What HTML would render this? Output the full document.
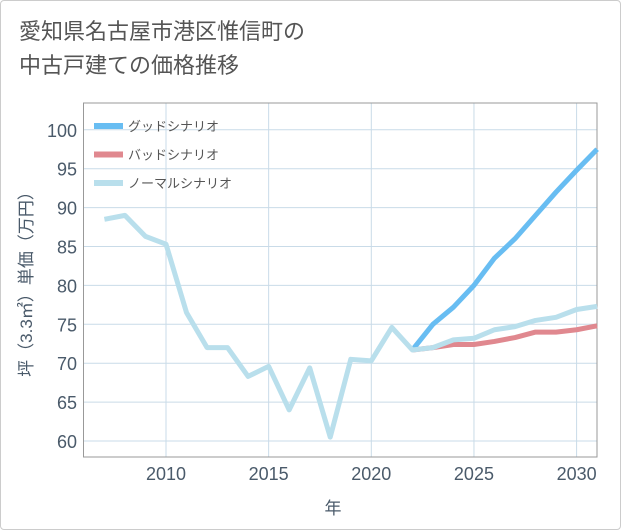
<!DOCTYPE html>
<html><head><meta charset="utf-8">
<style>
body{margin:0;background:#fff;}
#card{position:absolute;left:0;top:0;width:619px;height:528px;border:1px solid #ccc;border-radius:4px;background:#fff;}
#title{position:absolute;left:18px;top:14px;font:22px "Liberation Sans","Noto Sans CJK JP",sans-serif;color:#555;line-height:34px;}
text{font-family:"Liberation Sans","Noto Sans CJK JP",sans-serif;}
</style></head><body>
<div id="card">
<div id="title">愛知県名古屋市港区惟信町の<br>中古戸建ての価格推移</div>
</div>
<svg id="chart" width="621" height="530" style="position:absolute;left:0;top:0"></svg>
<script>
const years=[2007,2008,2009,2010,2011,2012,2013,2014,2015,2016,2017,2018,2019,2020,2021,2022,2023,2024,2025,2026,2027,2028,2029,2030,2031];
const normal=[88.5,89,86.3,85.3,76.5,72,72,68.3,69.6,64,69.4,60.5,70.5,70.3,74.6,71.7,72,73,73.2,74.3,74.7,75.5,75.9,76.9,77.3];
const goodYears=[2022,2023,2024,2025,2026,2027,2028,2029,2030,2031];
const good=[71.7,75,77.2,80,83.5,86,89,92,94.8,97.5];
const bad=[71.7,72,72.4,72.4,72.8,73.3,74,74,74.3,74.8];
const yTicks=[60,65,70,75,80,85,90,95,100];
const xTicks=[2010,2015,2020,2025,2030];
const L=83.5,R=597,T=103,B=457;
const xs=y=>166+(y-2010)*20.53;
const ys=v=>441-(v-60)*7.78;
const svg=document.getElementById('chart');
const NS='http://www.w3.org/2000/svg';
function mk(t,a){const e=document.createElementNS(NS,t);for(const k in a)e.setAttribute(k,a[k]);svg.appendChild(e);return e;}
yTicks.forEach(v=>{
 const g=mk('line',{x1:L,x2:R,y1:ys(v),y2:ys(v),stroke:'#c9dbe8','stroke-width':1});
 
 
 const t=mk('text',{x:77,y:ys(v)+7,'text-anchor':'end','font-size':18,fill:'#4a5a6a'});t.textContent=v;
 
 
});
xTicks.forEach(v=>{
 const g=mk('line',{x1:xs(v),x2:xs(v),y1:T,y2:B,stroke:'#c9dbe8','stroke-width':1});
 
 
 const t=mk('text',{x:xs(v),y:480,'text-anchor':'middle','font-size':18,fill:'#4a5a6a'});t.textContent=v;
 
 
});
const fr=mk('rect',{x:L,y:T,width:R-L,height:B-T,fill:'none',stroke:'#999','stroke-width':1});


function line(xv,yv,c,n){
 const p=mk('polyline',{points:xv.map((x,i)=>xs(x)+','+ys(yv[i])).join(' '),fill:'none',stroke:c,'stroke-width':5,'stroke-linejoin':'round'});
 
 
}
line(goodYears,bad,'#e0888f','bad-scenario-line');
line(goodYears,good,'#68bdf2','good-scenario-line');
line(years,normal,'#b9dfec','normal-scenario-line');
const leg=[['グッドシナリオ','#68bdf2'],['バッドシナリオ','#e0888f'],['ノーマルシナリオ','#b9dfec']];
leg.forEach((d,i)=>{
 const y=126+i*28.5;
 const r=mk('rect',{x:94,y:y-3,width:29,height:6,fill:d[1]});
 
 
 const t=mk('text',{x:128,y:y+5,'font-size':13,fill:'#555'});t.textContent=d[0];
 
 
});
const yt=mk('text',{x:0,y:0,'font-size':17,fill:'#4a5a6a','text-anchor':'middle',transform:'translate(32,280) rotate(-90)'});
yt.textContent='坪（3.3㎡）単価（万円）';


const xt=mk('text',{x:333,y:514,'font-size':17,fill:'#4a5a6a','text-anchor':'middle'});
xt.textContent='年';


</script>
</body></html>
